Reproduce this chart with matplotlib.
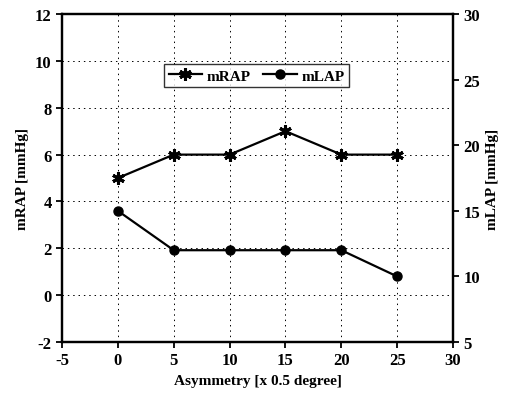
import matplotlib.pyplot as plt

# Data
asym = [0, 5, 10, 15, 20, 25]
mrap = [5, 6, 6, 7, 6, 6]
mlap = [15, 12, 12, 12, 12, 10]

plt.rcParams['font.family'] = ['Liberation Serif', 'DejaVu Serif']
plt.rcParams['font.weight'] = 'bold'
plt.rcParams['axes.unicode_minus'] = False

fig = plt.figure(figsize=(5.18, 4.06), dpi=100)
ax = fig.add_axes([0.1197, 0.155, 0.755, 0.808])
ax2 = ax.twinx()

l1, = ax.plot(asym, mrap, color='black', lw=1.6, marker=(6, 2, 0),
              ms=9, mew=2.2, label='mRAP')
l2, = ax2.plot(asym, mlap, color='black', lw=1.6, marker='o',
               ms=6.5, label='mLAP')

ax.set_xlim(-5, 30)
ax.set_ylim(-2, 12)
ax2.set_ylim(5, 30)
ax.set_xticks(range(-5, 31, 5))
ax.set_yticks(range(-2, 13, 2))
ax2.set_yticks(range(5, 31, 5))

ax.grid(True, color='black', lw=0.7, ls=(0, (1.5, 4)))

for a in (ax, ax2):
    for s in a.spines.values():
        s.set_linewidth(1.6)
    a.tick_params(labelsize=12, width=1.3, length=4)

ax.set_xlabel('Asymmetry [x 0.5 degree]', fontsize=11, fontweight='bold')
ax.set_ylabel('mRAP [mmHg]', fontsize=11, fontweight='bold')
ax2.set_ylabel('mLAP [mmHg]', fontsize=11, fontweight='bold')

leg = ax.legend(handles=[l1, l2], ncol=2, loc='upper center',
                bbox_to_anchor=(0.497, 0.87), fontsize=11, frameon=True,
                fancybox=False, edgecolor='black', handlelength=2.2,
                columnspacing=0.8, handletextpad=0.3, borderpad=0.3)
leg.get_frame().set_linewidth(1.0)

fig.savefig('out.png', dpi=100)
